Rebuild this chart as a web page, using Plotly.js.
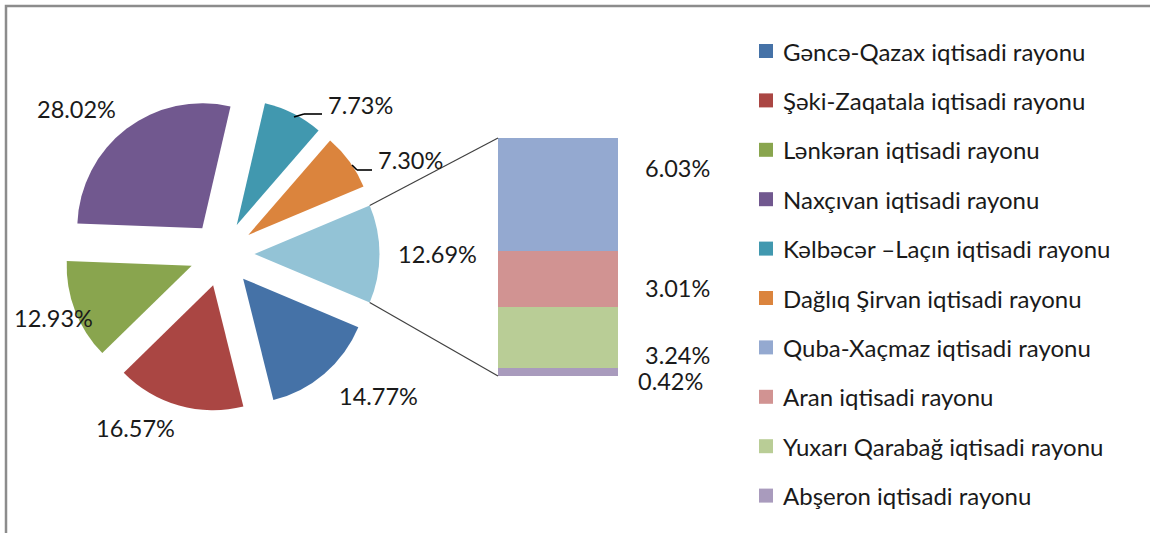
<!DOCTYPE html>
<html>
<head>
<meta charset="utf-8">
<script src="https://cdn.plot.ly/plotly-3.0.1.min.js"></script>
<style>
  html, body { margin: 0; padding: 0; background: #ffffff; }
  #chart { width: 1150px; height: 533px; }
</style>
</head>
<body>
<div id="chart"></div>
<script>
// ---------- DATA ----------
const pieLabels = [
  "Gəncə-Qazax iqtisadi rayonu",
  "Şəki-Zaqatala iqtisadi rayonu",
  "Lənkəran iqtisadi rayonu",
  "Naxçıvan iqtisadi rayonu",
  "Kəlbəcər –Laçın iqtisadi rayonu",
  "Dağlıq Şirvan iqtisadi rayonu",
  "Digər"
];
const pieValues = [14.77, 16.57, 12.93, 28.02, 7.73, 7.30, 12.69];

const barLabels = [
  "Quba-Xaçmaz iqtisadi rayonu",
  "Aran iqtisadi rayonu",
  "Yuxarı Qarabağ iqtisadi rayonu",
  "Abşeron iqtisadi rayonu"
];
const barValues = [6.03, 3.01, 3.24, 0.42];

// ---------- STYLE / LAYOUT CONSTANTS ----------
const W = 1150, H = 533;
const FONT = "Lato, 'Open Sans', sans-serif";
const TXT = "#1a1a1a";
const pieColors = ["#4572A7", "#AA4643", "#89A54E", "#71588F", "#4198AF", "#DB843D", "#93C3D6"];
const barColors = ["#94A9D0", "#D19392", "#B9CD96", "#A99BBD"];
const PULL = 0.26;
const pieBox = { x0: 64.5, x1: 379.5, y0: 96.5, y1: 411.5 };   // pixel box of pie domain
const barBox = { x0: 498, x1: 618, y0: 138, y1: 376 };          // pixel box of bar
// label centre positions (pixels)
const pieLabelPos = [[378, 396], [135, 428], [54, 318], [77, 109], [360, 105], [410, 160], [437, 254]];
const barLabelPos = [[677, 168], [678, 288], [677, 355], [670, 381]];
const legendPos = { xBox: 759, xText: 781, y0: 51, dy: 49.4, box: 14 };

const px = x => x / W;
const py = y => 1 - y / H;
const pct = v => v.toFixed(2) + "%";

// ---------- TRACES ----------
const pieTotal = pieValues.reduce((a, b) => a + b, 0);
const otherVal = pieValues[pieValues.length - 1];
const halfOther = otherVal / pieTotal * 180;   // degrees

const traces = [];
traces.push({
  type: "pie",
  labels: pieLabels,
  values: pieValues,
  sort: false,
  direction: "clockwise",
  rotation: 90 + halfOther,
  pull: pieValues.map(() => PULL),
  marker: { colors: pieColors, line: { width: 0 } },
  textinfo: "none",
  hoverinfo: "label+percent",
  showlegend: false,
  domain: { x: [px(pieBox.x0), px(pieBox.x1)], y: [py(pieBox.y1), py(pieBox.y0)] }
});

// stacked bar: bottom first
for (let i = barValues.length - 1; i >= 0; i--) {
  traces.push({
    type: "bar",
    x: [0],
    y: [barValues[i]],
    width: [1],
    name: barLabels[i],
    marker: { color: barColors[i], line: { width: 0 } },
    hoverinfo: "name+y",
    showlegend: false,
    xaxis: "x", yaxis: "y"
  });
}
const barTotal = barValues.reduce((a, b) => a + b, 0);

// ---------- SHAPES ----------
const shapes = [];
// frame (only top/left visible in reference)
shapes.push({ type: "rect", xref: "paper", yref: "paper", x0: px(6), x1: px(1165), y0: py(545), y1: py(6),
  line: { color: "#8c8c8c", width: 2.5 }, fillcolor: "rgba(0,0,0,0)", layer: "below" });

// connector lines from the "other" slice to the bar
const cx = (pieBox.x0 + pieBox.x1) / 2, cy = (pieBox.y0 + pieBox.y1) / 2;
const r = (pieBox.x1 - pieBox.x0) / 2 / (1 + PULL);
const th = halfOther * Math.PI / 180;
const cornerX = cx + PULL * r + r * Math.cos(th);
const topY = cy - r * Math.sin(th), botY = cy + r * Math.sin(th);
shapes.push({ type: "line", xref: "paper", yref: "paper", x0: px(cornerX), y0: py(topY), x1: px(barBox.x0), y1: py(barBox.y0),
  line: { color: "#404040", width: 1.2 } });
shapes.push({ type: "line", xref: "paper", yref: "paper", x0: px(cornerX), y0: py(botY), x1: px(barBox.x0), y1: py(barBox.y1),
  line: { color: "#404040", width: 1.2 } });

// leader lines for small slice labels
const leaders = [
  [[294, 117], [304, 114], [322, 114]],
  [[352, 165], [357, 170], [372, 170]]
];
leaders.forEach(pts => {
  for (let k = 0; k < pts.length - 1; k++) {
    shapes.push({ type: "line", xref: "paper", yref: "paper",
      x0: px(pts[k][0]), y0: py(pts[k][1]), x1: px(pts[k + 1][0]), y1: py(pts[k + 1][1]),
      line: { color: "#000000", width: 1.6 } });
  }
});

// ---------- ANNOTATIONS ----------
const annotations = [];
pieValues.forEach((v, i) => {
  annotations.push({ xref: "paper", yref: "paper", x: px(pieLabelPos[i][0]), y: py(pieLabelPos[i][1]),
    xanchor: "center", yanchor: "middle", showarrow: false, text: pct(v),
    font: { family: FONT, size: 23.5, color: TXT } });
});
barValues.forEach((v, i) => {
  annotations.push({ xref: "paper", yref: "paper", x: px(barLabelPos[i][0]), y: py(barLabelPos[i][1]),
    xanchor: "center", yanchor: "middle", showarrow: false, text: pct(v),
    font: { family: FONT, size: 23.5, color: TXT } });
});

// manual legend: pie entries (without "Digər") then bar entries
const legendNames = pieLabels.slice(0, -1).concat(barLabels);
const legendColors = pieColors.slice(0, -1).concat(barColors);
legendNames.forEach((name, i) => {
  const yc = legendPos.y0 + i * legendPos.dy;
  shapes.push({ type: "rect", xref: "paper", yref: "paper",
    x0: px(legendPos.xBox), x1: px(legendPos.xBox + legendPos.box),
    y0: py(yc + legendPos.box / 2), y1: py(yc - legendPos.box / 2),
    fillcolor: legendColors[i], line: { width: 0 } });
  annotations.push({ xref: "paper", yref: "paper", x: px(legendPos.xText), y: py(yc),
    xanchor: "left", yanchor: "middle", showarrow: false, text: name,
    font: { family: FONT, size: 24, color: TXT } });
});

const layout = {
  width: W, height: H,
  margin: { l: 0, r: 0, t: 0, b: 0, pad: 0 },
  paper_bgcolor: "#ffffff",
  plot_bgcolor: "rgba(0,0,0,0)",
  barmode: "stack",
  bargap: 0,
  showlegend: false,
  xaxis: { domain: [px(barBox.x0), px(barBox.x1)], range: [-0.5, 0.5], visible: false, fixedrange: true },
  yaxis: { domain: [py(barBox.y1), py(barBox.y0)], range: [0, barTotal], visible: false, fixedrange: true },
  shapes: shapes,
  annotations: annotations
};

Plotly.newPlot("chart", traces, layout, { displayModeBar: false, staticPlot: true });
</script>
</body>
</html>
